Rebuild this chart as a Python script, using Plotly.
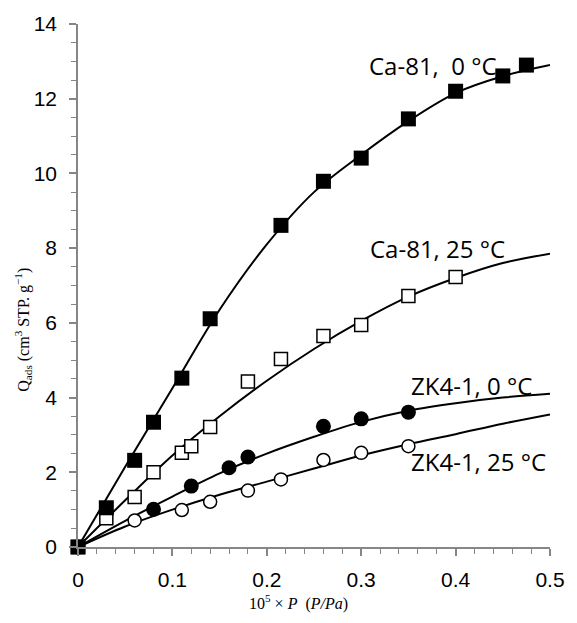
import plotly.graph_objects as go

# Measured data points
ca0_x = [0, 0.03, 0.06, 0.08, 0.11, 0.14, 0.215, 0.26, 0.30, 0.35, 0.40, 0.45, 0.475]
ca0_y = [0, 1.05, 2.32, 3.34, 4.52, 6.11, 8.61, 9.79, 10.41, 11.46, 12.2, 12.61, 12.9]

ca25_x = [0, 0.03, 0.06, 0.08, 0.11, 0.12, 0.14, 0.18, 0.215, 0.26, 0.30, 0.35, 0.40]
ca25_y = [0, 0.77, 1.34, 2.0, 2.52, 2.70, 3.21, 4.43, 5.03, 5.65, 5.94, 6.72, 7.23]

zk0_x = [0, 0.08, 0.12, 0.16, 0.18, 0.26, 0.30, 0.35]
zk0_y = [0, 1.01, 1.63, 2.12, 2.41, 3.23, 3.43, 3.61]

zk25_x = [0, 0.06, 0.11, 0.14, 0.18, 0.215, 0.26, 0.30, 0.35]
zk25_y = [0, 0.71, 0.99, 1.21, 1.51, 1.81, 2.33, 2.52, 2.70]

# Fitted curves
fit_x = [0, 0.05, 0.10, 0.15, 0.20, 0.25, 0.30, 0.35, 0.40, 0.45, 0.50]
fit_ca0 = [0, 2.15, 4.25, 6.35, 8.1, 9.5, 10.5, 11.4, 12.15, 12.6, 12.9]
fit_ca25 = [0, 1.25, 2.45, 3.5, 4.45, 5.3, 6.05, 6.7, 7.2, 7.6, 7.85]
fit_zk0 = [0, 0.7, 1.35, 1.97, 2.5, 2.95, 3.35, 3.65, 3.85, 4.0, 4.1]
fit_zk25 = [0, 0.55, 1.0, 1.4, 1.75, 2.1, 2.45, 2.75, 3.02, 3.3, 3.55]

labels = ["Ca-81,  0 °C", "Ca-81, 25 °C", "ZK4-1, 0 °C", "ZK4-1, 25 °C"]
label_x = [0.306, 0.307, 0.351, 0.351]
label_y = [12.9, 8.0, 4.32, 2.3]

fig = go.Figure()

for fy in [fit_ca0, fit_ca25, fit_zk0, fit_zk25]:
    fig.add_trace(go.Scatter(x=fit_x, y=fy, mode="lines",
                             line=dict(color="black", width=2, shape="spline", smoothing=1.0),
                             showlegend=False, hoverinfo="skip", cliponaxis=False))

fig.add_trace(go.Scatter(x=zk25_x, y=zk25_y, mode="markers",
                         marker=dict(symbol="circle", size=13, color="white",
                                     line=dict(color="black", width=1.5)),
                         showlegend=False, cliponaxis=False))
fig.add_trace(go.Scatter(x=zk0_x, y=zk0_y, mode="markers",
                         marker=dict(symbol="circle", size=15, color="black",
                                     line=dict(color="black", width=0)),
                         showlegend=False, cliponaxis=False))
fig.add_trace(go.Scatter(x=ca25_x, y=ca25_y, mode="markers",
                         marker=dict(symbol="square", size=13, color="white",
                                     line=dict(color="black", width=1.5)),
                         showlegend=False, cliponaxis=False))
fig.add_trace(go.Scatter(x=ca0_x, y=ca0_y, mode="markers",
                         marker=dict(symbol="square", size=15, color="black",
                                     line=dict(color="black", width=0)),
                         showlegend=False, cliponaxis=False))

for t, lx, ly in zip(labels, label_x, label_y):
    fig.add_annotation(x=lx, y=ly, text=t, showarrow=False, xanchor="left", yanchor="middle",
                       font=dict(family="Open Sans", size=24, color="black"))

fig.add_annotation(xref="paper", yref="paper", x=-0.117, y=0.415, textangle=-90,
                   text="Q<sub>ads</sub> (cm<sup>3</sup> STP. g<sup>−1</sup>)", showarrow=False,
                   xanchor="center", yanchor="middle",
                   font=dict(family="Liberation Serif", size=16, color="black"))
fig.add_annotation(xref="paper", yref="paper", x=0.467, y=-0.107,
                   text="10<sup>5</sup> × <i>P</i>  (<i>P/Pa</i>)", showarrow=False,
                   xanchor="center", yanchor="middle",
                   font=dict(family="Liberation Serif", size=16, color="black"))

axis_common = dict(showgrid=False, zeroline=False, showline=True, linecolor="#868686", linewidth=1.5,
                   ticks="outside", tickcolor="#868686", ticklen=7, tickwidth=1.5,
                   tickfont=dict(family="Liberation Sans", size=21, color="black"))

fig.update_xaxes(range=[0, 0.5], tickvals=[0, 0.1, 0.2, 0.3, 0.4, 0.5],
                 ticktext=["0", "0.1", "0.2", "0.3", "0.4", "0.5"], ticklabelstandoff=6,
                 minor=dict(dtick=0.02, tick0=0, ticks="outside", ticklen=5, tickcolor="#868686", tickwidth=1.2),
                 **axis_common)
fig.update_yaxes(range=[0, 14], tickvals=[0, 2, 4, 6, 8, 10, 12, 14], ticklabelstandoff=8,
                 minor=dict(dtick=0.5, tick0=0, ticks="outside", ticklen=5, tickcolor="#868686", tickwidth=1.2),
                 **axis_common)

fig.update_layout(width=577, height=623, margin=dict(l=78, r=19, t=22, b=76),
                  paper_bgcolor="white", plot_bgcolor="white")

fig.write_html("out.html")
